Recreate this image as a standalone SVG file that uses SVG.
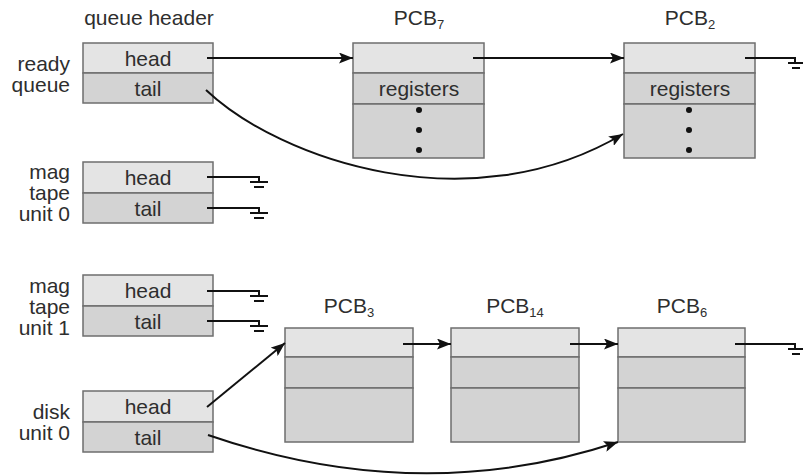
<svg xmlns="http://www.w3.org/2000/svg" width="803" height="476" viewBox="0 0 803 476">
<style>
text{font-family:"Liberation Sans",Arial,sans-serif;font-size:21px;fill:#2e2e2e}
.c{text-anchor:middle}
.r{text-anchor:end}
.sub{font-size:13px}
.lt{fill:#e4e4e4;stroke:#6e6e6e;stroke-width:1.5}
.dk{fill:#d3d3d3;stroke:#6e6e6e;stroke-width:1.5}
.ln{fill:none;stroke:#111;stroke-width:2}
.gnd{fill:none;stroke:#111;stroke-width:2}
.dot{fill:#111}
</style>
<defs>
<marker id="ah" markerUnits="userSpaceOnUse" markerWidth="15" markerHeight="11" refX="14" refY="5.5" orient="auto">
<path d="M0,0 L14,5.5 L0,11 L3,5.5 Z" fill="#111"/>
</marker>
</defs>
<text class="c" x="149" y="25">queue header</text>

<g id="ready-queue">
<text class="r" x="70" y="71">ready</text>
<text class="r" x="70" y="92">queue</text>
<rect class="lt" x="83" y="43" width="130" height="30"/>
<rect class="dk" x="83" y="73" width="130" height="30"/>
<text class="c" x="148" y="66">head</text>
<text class="c" x="148" y="96">tail</text>
</g>

<g id="mag-tape-0">
<text class="r" x="70" y="179">mag</text>
<text class="r" x="70" y="200">tape</text>
<text class="r" x="70" y="221">unit 0</text>
<rect class="lt" x="83" y="162" width="130" height="31"/>
<rect class="dk" x="83" y="193" width="130" height="30"/>
<text class="c" x="148" y="185">head</text>
<text class="c" x="148" y="216">tail</text>
</g>

<g id="mag-tape-1">
<text class="r" x="70" y="293">mag</text>
<text class="r" x="70" y="314">tape</text>
<text class="r" x="70" y="335">unit 1</text>
<rect class="lt" x="83" y="275" width="130" height="31"/>
<rect class="dk" x="83" y="306" width="130" height="30"/>
<text class="c" x="148" y="298">head</text>
<text class="c" x="148" y="329">tail</text>
</g>

<g id="disk-0">
<text class="r" x="70" y="419">disk</text>
<text class="r" x="70" y="440">unit 0</text>
<rect class="lt" x="83" y="391" width="130" height="31"/>
<rect class="dk" x="83" y="422" width="130" height="30"/>
<text class="c" x="148" y="414">head</text>
<text class="c" x="148" y="445">tail</text>
</g>

<g id="pcb7">
<text class="c" x="419" y="25">PCB<tspan class="sub" dy="4">7</tspan></text>
<rect class="lt" x="353" y="43" width="131" height="30"/>
<rect class="dk" x="353" y="73" width="131" height="31"/>
<rect class="dk" x="353" y="104" width="131" height="54"/>
<text class="c" x="419" y="96">registers</text>
<circle class="dot" cx="419" cy="110" r="3"/>
<circle class="dot" cx="419" cy="130" r="3"/>
<circle class="dot" cx="419" cy="150" r="3"/>
</g>

<g id="pcb2">
<text class="c" x="690" y="25">PCB<tspan class="sub" dy="4">2</tspan></text>
<rect class="lt" x="624" y="43" width="131" height="30"/>
<rect class="dk" x="624" y="73" width="131" height="31"/>
<rect class="dk" x="624" y="104" width="131" height="54"/>
<text class="c" x="690" y="96">registers</text>
<circle class="dot" cx="689" cy="110" r="3"/>
<circle class="dot" cx="689" cy="130" r="3"/>
<circle class="dot" cx="689" cy="150" r="3"/>
</g>

<g id="pcb3">
<text class="c" x="349" y="313">PCB<tspan class="sub" dy="4">3</tspan></text>
<rect class="lt" x="285" y="328" width="128" height="29"/>
<rect class="dk" x="285" y="357" width="128" height="31"/>
<rect class="dk" x="285" y="388" width="128" height="54"/>
</g>

<g id="pcb14">
<text class="c" x="515" y="313">PCB<tspan class="sub" dy="4">14</tspan></text>
<rect class="lt" x="451" y="328" width="128" height="29"/>
<rect class="dk" x="451" y="357" width="128" height="31"/>
<rect class="dk" x="451" y="388" width="128" height="54"/>
</g>

<g id="pcb6">
<text class="c" x="682" y="313">PCB<tspan class="sub" dy="4">6</tspan></text>
<rect class="lt" x="618" y="328" width="127" height="29"/>
<rect class="dk" x="618" y="357" width="127" height="31"/>
<rect class="dk" x="618" y="388" width="127" height="54"/>
</g>

<g id="connectors">
<line class="ln" x1="207" y1="58" x2="353" y2="58" marker-end="url(#ah)"/>
<line class="ln" x1="473" y1="58" x2="624" y2="58" marker-end="url(#ah)"/>
<path class="ln" d="M206,90 C280,160 470,225 623,134" marker-end="url(#ah)"/>
<path class="gnd" d="M745,58 H795 V63 M788,63 H803 M792,68 H800"/>

<path class="gnd" d="M207,177 H259 V182 M250,182 H268 M254,187 H264"/>
<path class="gnd" d="M207,208 H259 V213 M250,213 H268 M254,218 H264"/>
<path class="gnd" d="M207,291 H259 V296 M250,296 H268 M254,301 H264"/>
<path class="gnd" d="M207,321 H259 V326 M250,326 H268 M254,331 H264"/>

<line class="ln" x1="207" y1="407" x2="285" y2="343" marker-end="url(#ah)"/>
<path class="ln" d="M208,435 Q420,508 618,442" marker-end="url(#ah)"/>
<line class="ln" x1="403" y1="344" x2="451" y2="344" marker-end="url(#ah)"/>
<line class="ln" x1="570" y1="344" x2="618" y2="344" marker-end="url(#ah)"/>
<path class="gnd" d="M735,344 H795 V349 M788,349 H803 M792,354 H800"/>
</g>
</svg>
